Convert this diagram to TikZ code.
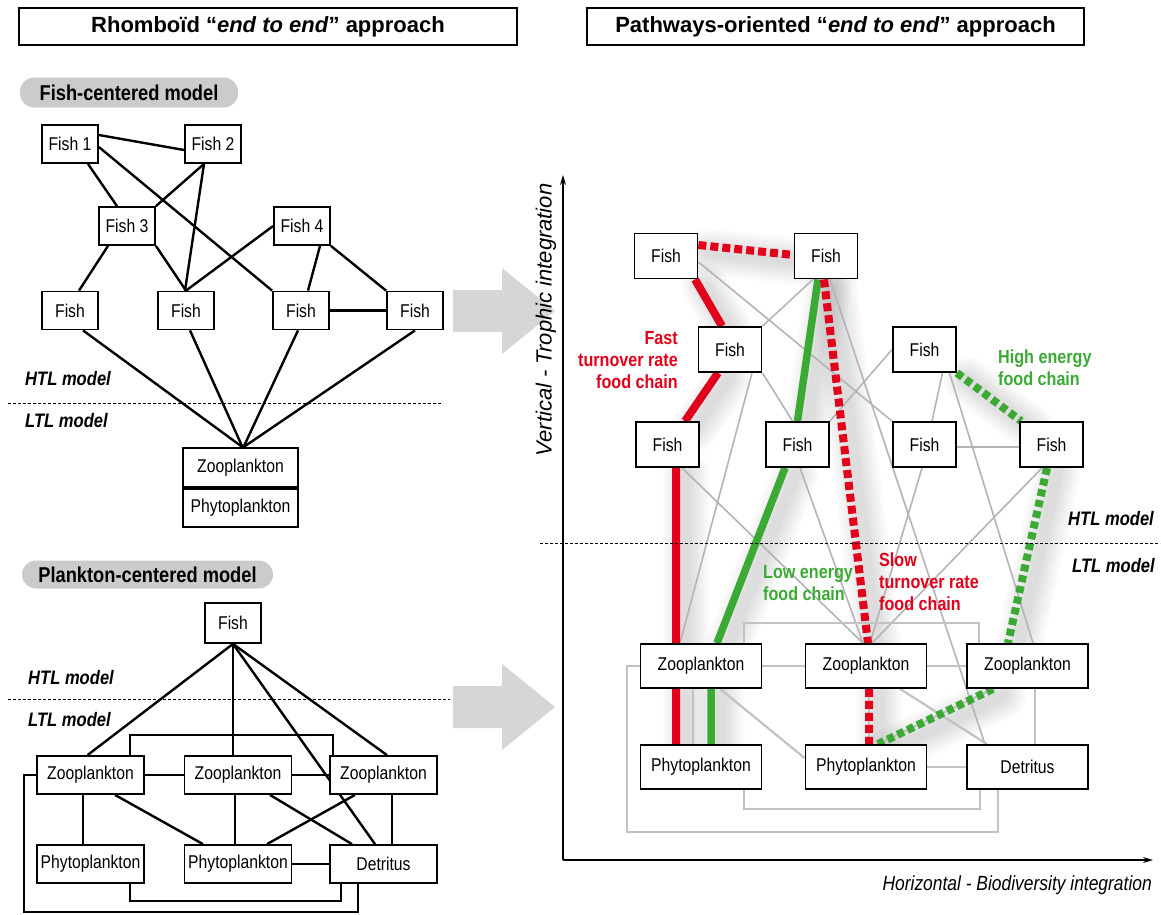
\documentclass[tikz,border=0pt]{standalone}
\usepackage{fontspec}
\setmainfont{Liberation Sans}[FakeStretch=0.85]
\newfontfamily\widefont{Liberation Sans}
\usetikzlibrary{arrows.meta}
\pgfdeclarelayer{haze}
\pgfdeclarelayer{links}
\pgfsetlayers{haze,links,main}

\definecolor{chainred}{HTML}{E2001A}
\definecolor{chaingreen}{HTML}{3BAA34}
\definecolor{linkgrey}{HTML}{B4B4B4}
\definecolor{framegrey}{HTML}{C2C2C2}
\definecolor{pillgrey}{HTML}{CBCBCB}
\definecolor{arrowgrey}{HTML}{D6D6D6}

% the four highlighted food chains of the pathways-oriented network
\newcommand\chainFast{([xshift=29pt]r1.south) -- ([xshift=-8pt]r3.north)
  ([xshift=-12pt]r3.south) -- ([xshift=17.5pt]r5.north)
  ([xshift=8.5pt]r5.south) -- ([xshift=-25pt]rz1.north)
  ([xshift=-25pt]rz1.south) -- ([xshift=-25pt]rp1.north)}
\newcommand\chainLow{([xshift=-8pt]r2.south) -- (r6.north)
  ([xshift=-12.5pt]r6.south) -- ([xshift=16pt]rz1.north)
  ([xshift=10pt]rz1.south) -- ([xshift=10pt]rp1.north)}
\newcommand\chainSlow{([yshift=11pt]r1.east) -- ([yshift=1pt]r2.west)
  ([xshift=-2pt]r2.south) -- ([xshift=2pt]rz2.north)
  ([xshift=3pt]rz2.south) -- ([xshift=3pt]rp2.north)}
\newcommand\chainHigh{(r4.south east) -- ([xshift=2pt]r8.north west)
  ([xshift=-4.5pt]r8.south) -- ([xshift=-19.5pt]rz3.north)
  ([xshift=-34.5pt]rz3.south) -- ([xshift=12pt]rp2.north)}

\begin{document}
\begin{tikzpicture}[x=1pt,y=-1pt,
  box/.style={draw, line width=1.8pt, fill=white, inner sep=0pt,
    font=\fontsize{18.5}{20}\selectfont},
  lfish/.style={box, minimum width=56pt, minimum height=38pt},
  lplank/.style={box, minimum width=107pt, minimum height=38pt},
  rfish/.style={box, minimum width=63pt, minimum height=45pt},
  rplank/.style={box, minimum width=121pt, minimum height=44pt},
  header/.style={draw, line width=1.8pt, fill=white, inner sep=0pt,
    font=\widefont\bfseries\fontsize{22}{26}\selectfont},
  pill/.style={fill=pillgrey, rounded corners=14pt, inner sep=0pt,
    font=\bfseries\fontsize{21.5}{24}\selectfont},
  link/.style={line width=2.4pt},
  greylink/.style={draw=linkgrey, line width=1.6pt},
  frame/.style={draw=framegrey, line width=2.2pt},
  modeltag/.style={font=\bfseries\itshape\fontsize{19.5}{22}\selectfont,
    anchor=west, inner sep=0pt},
  divider/.style={line width=0.8pt, dash pattern=on 3pt off 2pt},
  axis/.style={line width=1.2pt, -{Stealth[length=10pt,width=6pt]}},
  chainlabel/.style={font=\bfseries\fontsize{19}{22}\selectfont, inner sep=0pt},
  redsolid/.style={draw=chainred, line width=8pt},
  greensolid/.style={draw=chaingreen, line width=7.5pt},
  reddash/.style={draw=chainred, line width=8pt, dash pattern=on 8pt off 4pt},
  greendash/.style={draw=chaingreen, line width=8pt, dash pattern=on 7pt off 4pt},
  haze/.style={draw=black, opacity=0.018, line cap=round, line join=round}
]
\useasboundingbox (0,0) rectangle (1161,914);

% ---------------- headers ----------------
\node[header, minimum width=498pt, minimum height=37pt] (headL) at (268,26.5)
  {Rhombo\"id \textquotedblleft\textit{end to end}\textquotedblright\ approach};
\node[header, minimum width=497pt, minimum height=37pt] (headR) at (835.5,26.5)
  {Pathways-oriented \textquotedblleft\textit{end to end}\textquotedblright\ approach};

% ---------------- fish-centered model ----------------
\node[pill, minimum width=218pt, minimum height=30pt] (pillA) at (129,92.5) {Fish-centered model};

\node[lfish] (f1) at (70,144) {Fish 1};
\node[lfish] (f2) at (213,144) {Fish 2};
\node[lfish] (f3) at (127,226) {Fish 3};
\node[lfish] (f4) at (302,226) {Fish 4};
\node[lfish] (fa) at (70,310.5) {Fish};
\node[lfish] (fb) at (186,310.5) {Fish};
\node[lfish] (fc) at (301,310.5) {Fish};
\node[lfish] (fd) at (415,310.5) {Fish};
\node[box, minimum width=115pt, minimum height=39pt] (hz) at (240.5,467.5) {Zooplankton};
\node[box, minimum width=115pt, minimum height=38pt, anchor=north] (hp) at (hz.south) {Phytoplankton};

\begin{pgfonlayer}{links}
\draw[link] ([yshift=9pt]f1.east) -- ([yshift=-6pt]f2.west);
\draw[link] ([yshift=-3pt]f1.east) -- (fc.north west);
\draw[link] ([xshift=18pt]f1.south) -- ([xshift=-10pt]f3.north);
\draw[link] ([xshift=-9pt]f2.south) -- (f3.north east);
\draw[link] ([xshift=-9pt]f2.south) -- ([xshift=-1pt]fb.north);
\draw[link] ([xshift=-19pt]f3.south) -- ([xshift=9pt]fa.north);
\draw[link] (f3.south east) -- (fb.north);
\draw[link] (f4.west) -- (fb.north);
\draw[link] ([xshift=18pt]f4.south) -- ([xshift=7pt]fc.north);
\draw[link] (f4.south east) -- (fd.north west);
\draw[link] (fc.east) -- (fd.west);
\draw[link] ([xshift=13pt]fa.south) -- ([xshift=2pt]hz.north);
\draw[link] ([xshift=4pt]fb.south) -- ([xshift=2pt]hz.north);
\draw[link] ([xshift=-3pt]fc.south) -- ([xshift=3pt]hz.north);
\draw[link] (fd.south) -- ([xshift=3pt]hz.north);
\end{pgfonlayer}

\node[modeltag] (htlA) at (25,379) {HTL model};
\draw[divider] (8,403) -- (443,403);
\node[modeltag] (ltlA) at (25,421) {LTL model};

% ---------------- plankton-centered model ----------------
\node[pill, minimum width=251pt, minimum height=28pt] (pillB) at (147.5,574.5) {Plankton-centered model};

\node[lfish, minimum height=40pt] (pf) at (233,623) {Fish};
\node[lplank] (z1) at (90.5,775) {Zooplankton};
\node[lplank] (z2) at (238,775) {Zooplankton};
\node[lplank] (z3) at (383.5,775) {Zooplankton};
\node[lplank] (p1) at (90.5,864) {Phytoplankton};
\node[lplank] (p2) at (238,864) {Phytoplankton};
\node[lplank] (dt) at (383.5,864) {Detritus};

\begin{pgfonlayer}{links}
\draw[link] (pf.south) -- ([xshift=-3pt]z1.north);
\draw[link] (pf.south) -- (pf.south |- z2.north);
\draw[link] (pf.south) -- ([xshift=3.5pt]z3.north);
\draw[link] (pf.south) -- ([xshift=-8.5pt]dt.north);
\draw[link] (z1.east) -- (z2.west);
\draw[link] (z2.east) -- (z3.west);
\draw[link] ([xshift=39.5pt]z1.north) -- ++(0,-20) -| ([xshift=-50.5pt]z3.north);
\draw[link] ([xshift=-7.5pt]z1.south) -- ([xshift=-7.5pt]p1.north);
\draw[link] ([xshift=24.5pt]z1.south) -- ([xshift=-35pt]p2.north);
\draw[link] ([xshift=-3pt]z2.south) -- ([xshift=-3pt]p2.north);
\draw[link] ([xshift=32pt]z2.south) -- ([xshift=-31.5pt]dt.north);
\draw[link] ([xshift=-28.5pt]z3.south) -- ([xshift=29pt]p2.north);
\draw[link] ([xshift=8.5pt]z3.south) -- ([xshift=8.5pt]dt.north);
\draw[link] (p2.east) -- (dt.west);
\draw[link] ([xshift=39.5pt]p1.south) -- ++(0,17) -| ([xshift=-42.5pt]dt.south);
\draw[link] (z1.west) -- ++(-12,0) -- ++(0,137) -| ([xshift=-25.5pt]dt.south);
\end{pgfonlayer}

\node[modeltag] (htlB) at (28,678) {HTL model};
\draw[divider] (8,699) -- (450,699);
\node[modeltag] (ltlB) at (28,720) {LTL model};

% ---------------- transition arrows ----------------
\fill[arrowgrey] (453,290) -- (502,290) -- (502,268) -- (555,311) -- (502,354)
  -- (502,332) -- (453,332) -- cycle;
\fill[arrowgrey] (453,686) -- (502,686) -- (502,664) -- (555,707) -- (502,750)
  -- (502,728) -- (453,728) -- cycle;

% ---------------- pathways-oriented model ----------------
\coordinate (origin) at (563,860);
\coordinate (ytop) at (563,175);
\coordinate (xend) at (1153,860);
\draw[axis] (origin) -- (ytop);
\draw[axis] (origin) -- (xend);
\node[font=\widefont\itshape\fontsize{22}{26}\selectfont, rotate=90, inner sep=0pt]
  (vlab) at (546,320) {Vertical - Trophic integration};
\node[font=\itshape\fontsize{20.5}{24}\selectfont, anchor=east, inner sep=0pt]
  (hlab) at (1152,885) {Horizontal - Biodiversity integration};

\node[rfish] (r1) at (666,256) {Fish};
\node[rfish] (r2) at (826,256) {Fish};
\node[rfish] (r3) at (730,349.5) {Fish};
\node[rfish] (r4) at (924.5,349.5) {Fish};
\node[rfish] (r5) at (667.5,444.5) {Fish};
\node[rfish] (r6) at (797.5,444.5) {Fish};
\node[rfish] (r7) at (924.5,444.5) {Fish};
\node[rfish] (r8) at (1051.5,444.5) {Fish};
\node[rplank] (rz1) at (701,666) {Zooplankton};
\node[rplank] (rz2) at (866,666) {Zooplankton};
\node[rplank] (rz3) at (1027.5,666) {Zooplankton};
\node[rplank] (rp1) at (701,767) {Phytoplankton};
\node[rplank] (rp2) at (866,767) {Phytoplankton};
\node[rplank] (rd) at (1027.5,767) {Detritus};

% soft shadows under the highlighted chains
\begin{pgfonlayer}{haze}
\begin{scope}[transform canvas={xshift=10pt,yshift=-7pt}]
\foreach \w in {46,40,34,28,22,16,10}{
  \draw[haze, line width=\w pt] \chainFast;
  \draw[haze, line width=\w pt] \chainLow;
  \draw[haze, line width=\w pt] \chainSlow;
  \draw[haze, line width=\w pt] \chainHigh;
}
\end{scope}
\end{pgfonlayer}

\begin{pgfonlayer}{links}
% trophic links between fish groups and plankton
\draw[greylink] ([yshift=-6pt]r1.east) -- (r7.north west);
\draw[greylink] ([xshift=-13pt]r2.south) -- (r3.north east);
\draw[greylink] ([xshift=4pt]r2.south) -- ([xshift=-42.5pt]rd.north);
\draw[greylink] (r3.south east) -- ([xshift=-5pt]r6.north);
\draw[greylink] ([xshift=22pt]r3.south) -- ([xshift=-21pt]rz1.north);
\draw[greylink] (r6.north east) -- (r4.west);
\draw[greylink] ([xshift=18pt]r4.south) -- ([xshift=7.5pt]r7.north);
\draw[greylink] ([xshift=25pt]r4.south) -- ([xshift=5.5pt]rz3.north);
\draw[greylink] ([xshift=14.5pt]r5.south) -- ([xshift=-3pt]rz2.north);
\draw[greylink] ([xshift=2.5pt]r6.south) -- ([xshift=-3pt]rz2.north);
\draw[greylink] ([xshift=-2.5pt]r7.south) -- ([xshift=4pt]rz2.north);
\draw[greylink] ([xshift=-9.5pt]r8.south) -- ([xshift=6pt]rz2.north);
\draw[greylink] ([yshift=-2.5pt]r7.east) -- ([yshift=-2.5pt]r8.west);
% plankton sub-network
\draw[frame] (rz1.east) -- (rz2.west);
\draw[frame] (rz2.east) -- (rz3.west);
\draw[frame] ([xshift=43pt]rz1.north) -- ++(0,-20) -| ([xshift=-48.5pt]rz3.north);
\draw[frame] ([xshift=-8pt]rz1.south) -- ([xshift=-8pt]rp1.north);
\draw[frame] ([xshift=19pt]rz1.south) -- ([yshift=9pt]rp2.west);
\draw[frame] ([xshift=3pt]rz2.south) -- ([xshift=3pt]rp2.north);
\draw[frame] ([xshift=34pt]rz2.south) -- ([xshift=-40.5pt]rd.north);
\draw[frame] ([xshift=-34.5pt]rz3.south) -- ([xshift=12pt]rp2.north);
\draw[frame] ([xshift=7.5pt]rz3.south) -- ([xshift=7.5pt]rd.north);
\draw[frame] (rp2.east) -- (rd.west);
\draw[frame] ([xshift=43pt]rp1.south) -- ++(0,19) -| ([xshift=-47.5pt]rd.south);
\draw[frame] (rz1.west) -- ++(-13,0) -- ++(0,166) -| ([xshift=-29.5pt]rd.south);
% highlighted chains
\draw[redsolid] \chainFast;
\draw[greensolid] \chainLow;
\draw[reddash] \chainSlow;
\draw[greendash] \chainHigh;
\end{pgfonlayer}

\node[chainlabel, text=chainred, align=right, anchor=east] (fastlab) at (678,360)
  {Fast\\turnover rate\\food chain};
\node[chainlabel, text=chaingreen, align=left, anchor=west] (highlab) at (998,368)
  {High energy\\food chain};
\node[chainlabel, text=chaingreen, align=left, anchor=west] (lowlab) at (763,583)
  {Low energy\\food chain};
\node[chainlabel, text=chainred, align=left, anchor=west] (slowlab) at (879,582)
  {Slow\\turnover rate\\food chain};

\node[modeltag] (htlC) at (1068,519) {HTL model};
\draw[divider] (540,543) -- (1160,543);
\node[modeltag] (ltlC) at (1072,566) {LTL model};

\end{tikzpicture}
\end{document}
